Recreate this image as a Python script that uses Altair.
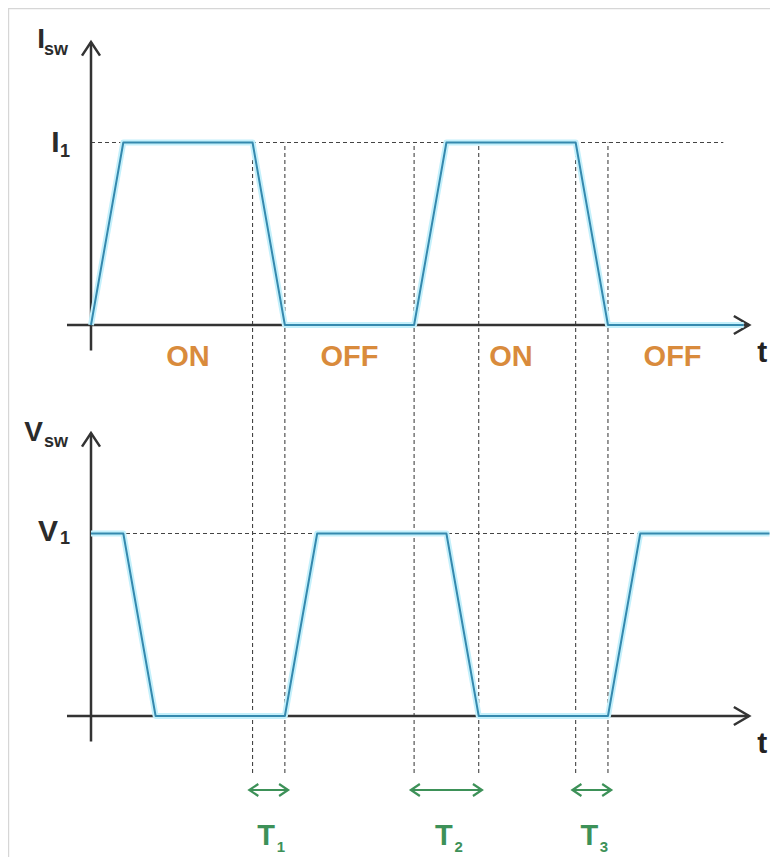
import altair as alt
import pandas as pd

# ---------------- data ----------------
# switch current I_sw (normalised to I1) versus time (time unit = one transition)
cur_t = [0, 1, 5, 6, 10, 11, 15, 16, 20.2]
cur_lvl = [0, 1, 1, 0, 0, 1, 1, 0, 0]
# switch voltage V_sw (normalised to V1)
volt_t = [0, 1, 2, 6, 7, 11, 12, 16, 17, 21.0]
volt_lvl = [1, 1, 0, 0, 1, 1, 0, 0, 1, 1]
# switching state intervals
state_names = ["ON", "OFF", "ON", "OFF"]
state_edges = [0, 6, 10, 16, 20]
# transition (loss) intervals T1..T3
interval_names = ["1", "2", "3"]
interval_start = [5, 10, 15]
interval_end = [6, 12, 16]
marker_t = [5, 6, 10, 12, 15, 16]

# ---------------- layout ----------------
W, H = 762, 849
PX_PER_T = 32.31
PX_PER_L = 182.5
T_MIN = -(91 - 8) / PX_PER_T
T_MAX = T_MIN + W / PX_PER_T
Y_MAX = (716 - 8) / PX_PER_L
Y_MIN = Y_MAX - H / PX_PER_L
TOP = (716 - 325) / PX_PER_L      # baseline of the current panel
AX_X0, AX_X1 = -0.743, 20.37      # horizontal axis extent (t units)
AX_Y0, AX_Y1 = -0.14, 1.55        # vertical axis extent (levels)
DASH_BOTTOM = (716 - 773) / PX_PER_L
ARROW_Y = (716 - 790) / PX_PER_L
ARROW_PAD = 0.1
H_DASH_END_TOP = 19.57

FONT = "Liberation Sans"
AXIS_C = "#333333"
TEXT_C = "#2b2b2b"
ORANGE = "#d98b3c"
GREEN = "#3d9158"
WAVE = "#3589ae"
GLOW = "#c4f0fb"
DASH_C = "#444444"

X = alt.X("t:Q", scale=alt.Scale(domain=[T_MIN, T_MAX], nice=False, zero=False), axis=None)
X2 = alt.X2("t2:Q")
Y = alt.Y("y:Q", scale=alt.Scale(domain=[Y_MIN, Y_MAX], nice=False, zero=False), axis=None)
Y2 = alt.Y2("y2:Q")

# ---------------- frames ----------------
frame = alt.Chart(pd.DataFrame({"k": [0]})).mark_rule(color="#d6d6d6", strokeWidth=1.2)
frame_left = frame.encode(x=alt.value(0.6), y=alt.value(0), y2=alt.value(H))
frame_top = frame.encode(y=alt.value(0.6), x=alt.value(0), x2=alt.value(W))

# ---------------- dashed guides ----------------
vdash = alt.Chart(pd.DataFrame({"t": marker_t, "y": DASH_BOTTOM, "y2": TOP + 1})).mark_rule(
    color=DASH_C, strokeWidth=1.1, strokeDash=[4, 3]
).encode(x=X, y=Y, y2=Y2)

hdash = alt.Chart(pd.DataFrame({"t": [0, 0], "t2": [H_DASH_END_TOP, volt_t[8]], "y": [TOP + 1, 1]})).mark_rule(
    color=DASH_C, strokeWidth=1.1, strokeDash=[4, 3]
).encode(x=X, x2=X2, y=Y)

# ---------------- axes ----------------
haxis = alt.Chart(pd.DataFrame({"t": [AX_X0, AX_X0], "t2": [AX_X1, AX_X1], "y": [TOP, 0]})).mark_rule(
    color=AXIS_C, strokeWidth=2.5
).encode(x=X, x2=X2, y=Y)
vaxis = alt.Chart(pd.DataFrame({"t": [0, 0], "y": [TOP + AX_Y0, AX_Y0], "y2": [TOP + AX_Y1, AX_Y1]})).mark_rule(
    color=AXIS_C, strokeWidth=2.5
).encode(x=X, y=Y, y2=Y2)

up_head = alt.Chart(pd.DataFrame({"t": [0, 0], "y": [TOP + AX_Y1, AX_Y1]})).mark_point(
    shape="M -1 1.5 L 0 0 L 1 1.5", size=324, filled=False, strokeWidth=2.5, color=AXIS_C, opacity=1
).encode(x=X, y=Y)
right_head = alt.Chart(pd.DataFrame({"t": [AX_X1, AX_X1], "y": [TOP, 0]})).mark_point(
    shape="M -1.7 -1 L 0 0 L -1.7 1", size=324, filled=False, strokeWidth=2.5, color=AXIS_C, opacity=1
).encode(x=X, y=Y)

# ---------------- waveforms ----------------
wave_df = pd.concat([
    pd.DataFrame({"t": cur_t, "y": [v + TOP for v in cur_lvl], "s": "I", "o": range(len(cur_t))}),
    pd.DataFrame({"t": volt_t, "y": volt_lvl, "s": "V", "o": range(len(volt_t))}),
])
glow = alt.Chart(wave_df).mark_line(color=GLOW, strokeWidth=6, strokeJoin="round").encode(
    x=X, y=Y, detail="s:N", order="o:Q")
wave = alt.Chart(wave_df).mark_line(color=WAVE, strokeWidth=2, strokeJoin="round").encode(
    x=X, y=Y, detail="s:N", order="o:Q")

# ---------------- T interval arrows ----------------
arr_df = pd.DataFrame({
    "t": [s - ARROW_PAD for s in interval_start],
    "t2": [e + ARROW_PAD for e in interval_end],
    "y": ARROW_Y,
})
arr_line = alt.Chart(arr_df).mark_rule(color=GREEN, strokeWidth=2).encode(x=X, x2=X2, y=Y)
arr_left = alt.Chart(arr_df).mark_point(
    shape="M 1.5 -1 L 0 0 L 1.5 1", size=144, filled=False, strokeWidth=2.2, color=GREEN, opacity=1
).encode(x=X, y=Y)
arr_right = alt.Chart(arr_df).mark_point(
    shape="M -1.5 -1 L 0 0 L -1.5 1", size=144, filled=False, strokeWidth=2.2, color=GREEN, opacity=1
).encode(x=alt.X("t2:Q", scale=alt.Scale(domain=[T_MIN, T_MAX], nice=False, zero=False), axis=None), y=Y)


# ---------------- text ----------------
def text_layer(df, size, color, dx=0, dy=0, align="center", weight="bold"):
    return alt.Chart(df).mark_text(
        font=FONT, fontSize=size, color=color, dx=dx, dy=dy, align=align,
        baseline="alphabetic", fontWeight=weight
    ).encode(x=X, y=Y, text="label:N")


state_mid = [(a + b) / 2 for a, b in zip(state_edges[:-1], state_edges[1:])]
state_txt = text_layer(pd.DataFrame({"t": state_mid, "y": TOP, "label": state_names}),
                       29, ORANGE, dy=41)
t_txt = text_layer(pd.DataFrame({"t": [AX_X1, AX_X1], "y": [TOP, 0], "label": ["t", "t"]}),
                   30, "#222222", dx=13, dy=37)

int_mid = [(a + b) / 2 for a, b in zip(interval_start, interval_end)]
T_txt = text_layer(pd.DataFrame({"t": int_mid, "y": 0, "label": "T"}), 29, GREEN, dx=-2.5, dy=129)
T_sub = text_layer(pd.DataFrame({"t": int_mid, "y": 0, "label": interval_names}), 15, GREEN,
                   dx=8, dy=136, align="left")

isw_I = text_layer(pd.DataFrame({"t": [0], "y": [TOP + AX_Y1], "label": ["I"]}), 28, TEXT_C,
                   dx=-46, dy=6, align="right")
isw_s = text_layer(pd.DataFrame({"t": [0], "y": [TOP + AX_Y1], "label": ["sw"]}), 18, TEXT_C,
                   dx=-47, dy=13, align="left")
vsw_V = text_layer(pd.DataFrame({"t": [0], "y": [AX_Y1], "label": ["V"]}), 28, TEXT_C,
                   dx=-48, dy=8, align="right")
vsw_s = text_layer(pd.DataFrame({"t": [0], "y": [AX_Y1], "label": ["sw"]}), 18, TEXT_C,
                   dx=-47, dy=14, align="left")
i1_I = text_layer(pd.DataFrame({"t": [0], "y": [TOP + 1], "label": ["I"]}), 30, TEXT_C,
                  dx=-31.5, dy=9.5, align="right")
i1_s = text_layer(pd.DataFrame({"t": [0], "y": [TOP + 1], "label": ["1"]}), 18, TEXT_C,
                  dx=-31, dy=14.5, align="left")
v1_V = text_layer(pd.DataFrame({"t": [0], "y": [1], "label": ["V"]}), 30, TEXT_C,
                  dx=-33, dy=7, align="right")
v1_s = text_layer(pd.DataFrame({"t": [0], "y": [1], "label": ["1"]}), 18, TEXT_C,
                  dx=-31, dy=10, align="left")

chart = alt.layer(
    frame_left, frame_top,
    vdash, hdash,
    haxis, vaxis, up_head, right_head,
    glow, wave,
    arr_line, arr_left, arr_right,
    state_txt, t_txt, T_txt, T_sub,
    isw_I, isw_s, vsw_V, vsw_s, i1_I, i1_s, v1_V, v1_s,
).properties(
    width=W, height=H, autosize=alt.AutoSizeParams(type="none"), padding=0
).configure_view(stroke=None).configure(background="white")

chart.save("out.html", embed_options={"renderer": "svg", "actions": False})
